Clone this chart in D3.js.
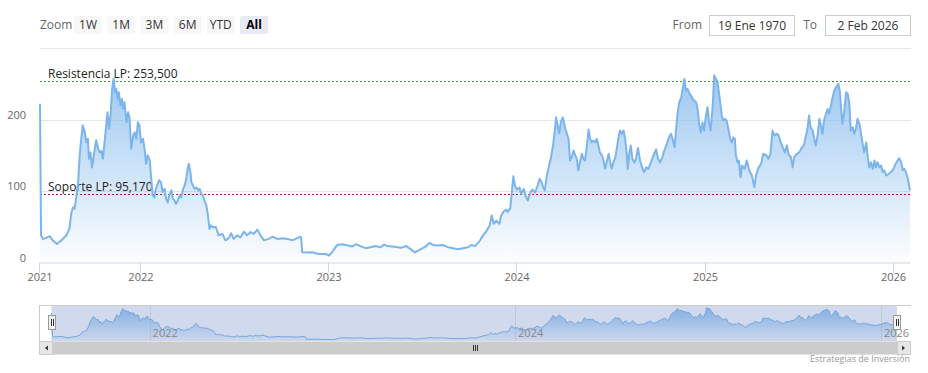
<!DOCTYPE html>
<html lang="es">
<head>
<meta charset="utf-8">
<script src="https://cdn.jsdelivr.net/npm/d3@7"></script>
<style>
  body { margin: 0; background: #fff; }
  svg text { font-family: "Open Sans", "Noto Sans", sans-serif; }
</style>
</head>
<body>
<script>
// price history ([date, value])
var prices2021 = [
  ["2021-06-19",222],["2021-06-21",38],["2021-06-25",33],["2021-07-01",34.5],["2021-07-08",36.8],["2021-07-14",30.7],
  ["2021-07-22",26],["2021-07-30",30.7],["2021-08-09",37.8],["2021-08-15",47],["2021-08-19",70],["2021-08-22",77],
  ["2021-08-25",75],["2021-08-28",89],["2021-09-01",112],["2021-09-04",150],["2021-09-07",173],["2021-09-10",192],
  ["2021-09-14",182],["2021-09-17",168],["2021-09-20",173],["2021-09-22",145],["2021-09-25",154],["2021-09-28",133],
  ["2021-10-03",157],["2021-10-06",171],["2021-10-10",159],["2021-10-13",154],["2021-10-16",156],["2021-10-19",145],
  ["2021-10-23",173],["2021-10-26",196],["2021-10-28",210],["2021-10-31",187],["2021-11-03",206],["2021-11-06",243],
  ["2021-11-09",257],["2021-11-12",238],["2021-11-14",243],["2021-11-17",229],["2021-11-19",238],["2021-11-22",220],
  ["2021-11-25",229],["2021-11-27",215],["2021-11-30",224],["2021-12-04",196],["2021-12-07",210],["2021-12-10",201],
  ["2021-12-13",159],["2021-12-17",178],["2021-12-20",182],["2021-12-23",173],["2021-12-26",196],["2021-12-29",192]
];
var prices2022 = [
  ["2022-01-01",168],["2022-01-05",173],["2022-01-08",159],["2022-01-11",138],["2022-01-14",150],["2022-01-18",143],
  ["2022-01-21",117],["2022-01-24",94],["2022-01-27",91],["2022-01-30",103],["2022-02-05",115],["2022-02-09",112],
  ["2022-02-12",98.5],["2022-02-16",103],["2022-02-19",89],["2022-02-22",84],["2022-02-25",94],["2022-03-01",101],
  ["2022-03-04",89],["2022-03-07",87],["2022-03-10",82],["2022-03-14",87],["2022-03-17",94],["2022-03-20",91],
  ["2022-03-24",103],["2022-03-27",108],["2022-03-30",117],["2022-04-02",133],["2022-04-04",138],["2022-04-07",126],
  ["2022-04-09",112],["2022-04-12",108],["2022-04-15",103],["2022-04-19",105],["2022-04-22",101],["2022-04-25",103],
  ["2022-04-28",96],["2022-05-01",94],["2022-05-04",87],["2022-05-08",80],["2022-05-11",66],["2022-05-14",47],
  ["2022-05-17",52],["2022-05-21",49],["2022-05-26",50],["2022-06-01",38],["2022-06-08",40],["2022-06-14",31],
  ["2022-06-21",34.5],["2022-06-25",41],["2022-06-30",33],["2022-07-07",38],["2022-07-13",35],["2022-07-20",43],
  ["2022-07-26",38],["2022-08-02",42.5],["2022-08-08",40],["2022-08-15",46],["2022-08-21",38],["2022-08-28",31],
  ["2022-09-06",33],["2022-09-13",36],["2022-09-23",33],["2022-10-02",34],["2022-10-12",33],["2022-10-22",31],
  ["2022-10-31",34],["2022-11-06",36],["2022-11-08",35],["2022-11-10",14.4],["2022-11-19",14],["2022-11-29",14.4],
  ["2022-12-12",12],["2022-12-25",12]
];
var prices2023 = [
  ["2023-01-01",9.8],["2023-01-07",14.4],["2023-01-17",24.6],["2023-01-27",25.6],["2023-02-05",24],["2023-02-15",22.4],
  ["2023-02-23",25.6],["2023-03-03",23],["2023-03-13",20],["2023-03-23",21.4],["2023-04-01",23],["2023-04-11",21.4],
  ["2023-04-18",25],["2023-04-24",23],["2023-05-08",22],["2023-05-21",20.5],["2023-05-31",23],["2023-06-10",18],
  ["2023-06-16",14.4],["2023-06-23",16.5],["2023-07-02",20],["2023-07-09",23],["2023-07-15",27.4],["2023-07-22",24.5],
  ["2023-07-31",23.7],["2023-08-10",24.5],["2023-08-20",21.4],["2023-08-30",20],["2023-09-08",18.4],["2023-09-18",20],
  ["2023-09-28",21.4],["2023-10-04",24.5],["2023-10-12",23],["2023-10-21",30.7],["2023-10-27",37.8],["2023-11-02",43],
  ["2023-11-09",51.7],["2023-11-13",65.7],["2023-11-17",54],["2023-11-22",58.6],["2023-11-28",54],["2023-12-01",65],
  ["2023-12-06",71.3],["2023-12-11",74],["2023-12-14",70.5],["2023-12-19",76],["2023-12-22",98.3],["2023-12-25",120.7],
  ["2023-12-28",107.7]
];
var prices2024 = [
  ["2024-01-01",102],["2024-01-06",105],["2024-01-09",96],["2024-01-14",103],["2024-01-18",93],["2024-01-22",86.7],
  ["2024-01-27",98.3],["2024-01-31",102],["2024-02-05",97.6],["2024-02-10",107.7],["2024-02-14",117],["2024-02-18",112],
  ["2024-02-21",105],["2024-02-24",100.8],["2024-02-28",121.7],["2024-03-04",138],["2024-03-07",147],["2024-03-11",163.6],
  ["2024-03-14",182],["2024-03-17",203],["2024-03-20",191.6],["2024-03-23",180.6],["2024-03-26",196],["2024-03-30",203],
  ["2024-04-04",187],["2024-04-07",180],["2024-04-10",173],["2024-04-13",142.6],["2024-04-16",147],["2024-04-20",156.6],
  ["2024-04-23",150],["2024-04-26",145],["2024-04-29",128.7],["2024-05-03",142.6],["2024-05-06",152],["2024-05-09",145],
  ["2024-05-12",142.6],["2024-05-15",159],["2024-05-19",186],["2024-05-22",173],["2024-05-25",168],["2024-05-28",170.6],
  ["2024-06-01",168],["2024-06-04",173],["2024-06-07",163.6],["2024-06-10",154],["2024-06-14",150],["2024-06-17",142.6],
  ["2024-06-20",131],["2024-06-23",140],["2024-06-27",152],["2024-06-30",140],["2024-07-03",131],["2024-07-06",140],
  ["2024-07-10",147],["2024-07-13",161],["2024-07-16",175],["2024-07-19",184.6],["2024-07-22",180],["2024-07-26",184.6],
  ["2024-07-29",173],["2024-08-01",154],["2024-08-03",131],["2024-08-06",152],["2024-08-09",163.6],["2024-08-12",145],
  ["2024-08-16",140],["2024-08-19",145],["2024-08-23",160],["2024-08-27",142.6],["2024-08-31",133],["2024-09-04",126.3],
  ["2024-09-08",133],["2024-09-12",131],["2024-09-17",140],["2024-09-22",150],["2024-09-27",158],["2024-10-01",145],
  ["2024-10-05",140],["2024-10-09",147],["2024-10-13",156.6],["2024-10-18",166],["2024-10-22",175],["2024-10-26",180],
  ["2024-10-30",170.6],["2024-11-02",161],["2024-11-05",186.6],["2024-11-08",210],["2024-11-11",224],["2024-11-15",231],
  ["2024-11-18",245],["2024-11-21",256.8],["2024-11-24",240.5],["2024-11-27",243],["2024-12-01",236],["2024-12-04",233.5],
  ["2024-12-07",229],["2024-12-10",226.5],["2024-12-14",224],["2024-12-17",212.6],["2024-12-20",191.6],["2024-12-23",182],
  ["2024-12-26",196],["2024-12-29",184.6]
];
var prices2025 = [
  ["2025-01-02",205.6],["2025-01-05",217.2],["2025-01-08",196],["2025-01-11",184.6],["2025-01-15",219.6],["2025-01-18",262],
  ["2025-01-21",256.8],["2025-01-24",254.4],["2025-01-27",238],["2025-01-30",221.6],["2025-02-02",203.2],["2025-02-05",198.5],
  ["2025-02-08",200.9],["2025-02-11",198.5],["2025-02-15",184.6],["2025-02-18",173],["2025-02-21",168],["2025-02-24",175],
  ["2025-02-27",173],["2025-03-01",150],["2025-03-04",140],["2025-03-07",142.6],["2025-03-10",119.3],["2025-03-13",135.6],
  ["2025-03-18",131],["2025-03-22",142.6],["2025-03-27",129],["2025-04-01",121.7],["2025-04-06",105.3],["2025-04-09",121.7],
  ["2025-04-14",133],["2025-04-19",138],["2025-04-23",152],["2025-04-29",150],["2025-05-03",145],["2025-05-07",152],
  ["2025-05-11",184.6],["2025-05-15",177.6],["2025-05-19",180],["2025-05-23",177.6],["2025-05-27",168],["2025-05-31",161],
  ["2025-06-04",154],["2025-06-08",163.6],["2025-06-11",152],["2025-06-16",147],["2025-06-19",133],["2025-06-22",147],
  ["2025-06-27",152],["2025-07-02",154],["2025-07-07",161],["2025-07-11",163.6],["2025-07-15",177.6],["2025-07-18",187],
  ["2025-07-21",205.6],["2025-07-24",189],["2025-07-28",184.6],["2025-07-31",173],["2025-08-03",163.6],["2025-08-07",180],
  ["2025-08-10",201],["2025-08-13",192],["2025-08-16",180],["2025-08-19",198.5],["2025-08-23",208],["2025-08-26",214.8],
  ["2025-08-29",208],["2025-09-01",217],["2025-09-04",228.8],["2025-09-08",240.5],["2025-09-11",245],["2025-09-14",247.6],
  ["2025-09-16",250],["2025-09-19",238],["2025-09-21",217],["2025-09-24",193.8],["2025-09-27",210],["2025-10-01",238],
  ["2025-10-04",236],["2025-10-07",224],["2025-10-10",184.6],["2025-10-14",189],["2025-10-17",180],["2025-10-20",187],
  ["2025-10-23",201],["2025-10-27",194],["2025-10-30",180],["2025-11-02",166],["2025-11-05",154],["2025-11-09",168],
  ["2025-11-12",147],["2025-11-15",133],["2025-11-18",140],["2025-11-22",131],["2025-11-25",142.6],["2025-11-28",133],
  ["2025-12-01",140],["2025-12-05",133],["2025-12-08",135.6],["2025-12-11",126.3],["2025-12-14",129],["2025-12-18",121.7],
  ["2025-12-23",124],["2025-12-27",126.3]
];
var prices2026 = [
  ["2026-01-01",131],["2026-01-05",138],["2026-01-09",142.6],["2026-01-12",146],["2026-01-16",140],["2026-01-19",129],
  ["2026-01-22",131],["2026-01-25",126.3],["2026-01-29",117],["2026-02-02",100.7]
];

var yTicks = [0, 100, 200, 300];
var xTickYears = ["2022-01-01","2023-01-01","2024-01-01","2025-01-01","2026-01-01"];
var navTickYears = ["2022-01-01","2024-01-01","2026-01-01"];
var resistance = 253.5, support = 95.17;
var resistanceLabel = "Resistencia LP: 253,500";
var supportLabel = "Soporte LP: 95,170";
var zoomButtons = ["1W","1M","3M","6M","YTD","All"];
var selectedButton = "All";
var fromText = "19 Ene 1970", toText = "2 Feb 2026";
var creditText = "Estrategias de Inversión";

var parse = d3.timeParse("%Y-%m-%d");
var data = [].concat(prices2021, prices2022, prices2023, prices2024, prices2025, prices2026)
  .map(function(d) { return { date: parse(d[0]), value: d[1] }; });

var W = 928, H = 373;
var plotLeft = 40, plotRight = 911, plotTop = 48, plotBottom = 262.5;

var svg = d3.select("body").append("svg")
  .attr("width", W).attr("height", H);

var extent = d3.extent(data, function(d) { return d.date; });
var x = d3.scaleTime().domain(extent).range([plotLeft, 910]);
var y = d3.scaleLinear().domain([0, 300]).range([plotBottom, plotTop]);

var defs = svg.append("defs");
var grad = defs.append("linearGradient").attr("id", "areaGrad")
  .attr("gradientUnits", "userSpaceOnUse")
  .attr("x1", 0).attr("x2", 0).attr("y1", plotTop).attr("y2", plotBottom);
grad.append("stop").attr("offset", 0).attr("stop-color", "#7cb5ec").attr("stop-opacity", 0.85);
grad.append("stop").attr("offset", 1).attr("stop-color", "#7cb5ec").attr("stop-opacity", 0.02);

// grid
svg.append("g").selectAll("line").data(yTicks.filter(function(v) { return v > 0; }))
  .enter().append("line")
  .attr("x1", plotLeft).attr("x2", plotRight)
  .attr("y1", function(v) { return Math.round(y(v)) + 0.5; })
  .attr("y2", function(v) { return Math.round(y(v)) + 0.5; })
  .attr("stroke", "#e6e6e6");

// y labels (top one hidden like highstock)
svg.append("g").selectAll("text").data(yTicks.filter(function(v) { return v < 300; }))
  .enter().append("text")
  .attr("x", 26).attr("y", function(v) { return y(v) - 1; })
  .attr("text-anchor", "end").attr("font-size", 11).attr("fill", "#666")
  .text(function(v) { return v; });

// area + plot lines + line
var area = d3.area().x(function(d) { return x(d.date); })
  .y0(plotBottom).y1(function(d) { return y(d.value); });
var line = d3.line().x(function(d) { return x(d.date); })
  .y(function(d) { return y(d.value); });

svg.append("path").datum(data).attr("d", area).attr("fill", "url(#areaGrad)");

[[resistance, "#3a9a3a", resistanceLabel], [support, "#a3213a", supportLabel]].forEach(function(p) {
  var yy = Math.round(y(p[0])) + 0.5;
  svg.append("line").attr("x1", plotLeft).attr("x2", plotRight)
    .attr("y1", yy).attr("y2", yy)
    .attr("stroke", p[1]).attr("stroke-dasharray", "2,2");
  svg.append("text").attr("x", 48).attr("y", yy - 3.5)
    .attr("font-size", 12).attr("fill", "#222").text(p[2]);
});

svg.append("path").datum(data).attr("d", line)
  .attr("fill", "none").attr("stroke", "#7cb5ec").attr("stroke-width", 2)
  .attr("stroke-linejoin", "round");

// x axis
var xTicks = [extent[0]].concat(xTickYears.map(parse));
svg.append("line").attr("x1", plotLeft).attr("x2", plotRight)
  .attr("y1", plotBottom + 0.5).attr("y2", plotBottom + 0.5).attr("stroke", "#ccd6eb");
svg.append("g").selectAll("line").data(xTicks).enter().append("line")
  .attr("x1", function(d) { return Math.round(x(d)) - 0.5; })
  .attr("x2", function(d) { return Math.round(x(d)) - 0.5; })
  .attr("y1", plotBottom).attr("y2", plotBottom + 10).attr("stroke", "#ccd6eb");
svg.append("g").selectAll("text").data(xTicks).enter().append("text")
  .attr("x", function(d) { return x(d); }).attr("y", 281)
  .attr("text-anchor", "middle").attr("font-size", 11).attr("fill", "#666")
  .text(d3.timeFormat("%Y"));

// range selector
svg.append("text").attr("x", 40).attr("y", 29).attr("font-size", 12).attr("fill", "#666").text("Zoom");
var btn = svg.append("g").selectAll("g").data(zoomButtons).enter().append("g")
  .attr("transform", function(d, i) { return "translate(" + (74 + i * 33.2) + ",16)"; });
btn.append("rect").attr("width", 28).attr("height", 18).attr("rx", 2)
  .attr("fill", function(d) { return d === selectedButton ? "#e6ebf5" : "#f7f7f7"; });
btn.append("text").attr("x", 14).attr("y", 13).attr("text-anchor", "middle")
  .attr("font-size", 12)
  .attr("font-weight", function(d) { return d === selectedButton ? "bold" : "normal"; })
  .attr("fill", function(d) { return d === selectedButton ? "#000" : "#333"; })
  .text(function(d) { return d; });

svg.append("text").attr("x", 702).attr("y", 29).attr("text-anchor", "end")
  .attr("font-size", 12).attr("fill", "#666").text("From");
svg.append("text").attr("x", 817).attr("y", 29).attr("text-anchor", "end")
  .attr("font-size", 12).attr("fill", "#666").text("To");
[[709.5, fromText], [825.5, toText]].forEach(function(b) {
  svg.append("rect").attr("x", b[0]).attr("y", 15.5).attr("width", 85).attr("height", 20)
    .attr("fill", "#fff").attr("stroke", "#cccccc");
  svg.append("text").attr("x", b[0] + 42.5).attr("y", 30).attr("text-anchor", "middle")
    .attr("font-size", 12).attr("fill", "#333").text(b[1]);
});

// navigator
var navTop = 305, navBottom = 341;
var nx = d3.scaleTime().domain(extent).range([51.5, 897]);
var ny = d3.scaleLinear().domain([0, 285]).range([navBottom, navTop]);

var ngrad = defs.append("linearGradient").attr("id", "navGrad")
  .attr("gradientUnits", "userSpaceOnUse")
  .attr("x1", 0).attr("x2", 0).attr("y1", navTop).attr("y2", navBottom);
ngrad.append("stop").attr("offset", 0).attr("stop-color", "#7cb5ec").attr("stop-opacity", 0.9);
ngrad.append("stop").attr("offset", 1).attr("stop-color", "#7cb5ec").attr("stop-opacity", 0.05);

svg.append("g").selectAll("line").data(navTickYears.map(parse)).enter().append("line")
  .attr("x1", function(d) { return Math.round(nx(d)) + 0.5; })
  .attr("x2", function(d) { return Math.round(nx(d)) + 0.5; })
  .attr("y1", navTop).attr("y2", navBottom).attr("stroke", "#e6e6e6");

var narea = d3.area().x(function(d) { return nx(d.date); })
  .y0(navBottom).y1(function(d) { return ny(d.value); });
var nline = d3.line().x(function(d) { return nx(d.date); })
  .y(function(d) { return ny(d.value); });
svg.append("path").datum(data).attr("d", narea).attr("fill", "url(#navGrad)");
svg.append("path").datum(data).attr("d", nline).attr("fill", "none")
  .attr("stroke", "#7cb5ec").attr("stroke-width", 1);

// mask over the selected range
svg.append("rect").attr("x", nx(extent[0])).attr("y", navTop)
  .attr("width", nx(extent[1]) - nx(extent[0])).attr("height", navBottom - navTop)
  .attr("fill", "rgba(102,133,194,0.3)");

svg.append("g").selectAll("text").data(navTickYears.map(parse)).enter().append("text")
  .attr("x", function(d) { return nx(d) + 3; }).attr("y", 337)
  .attr("font-size", 11).attr("fill", "#888")
  .text(d3.timeFormat("%Y"));

svg.append("line").attr("x1", 39).attr("x2", 911).attr("y1", navTop + 0.5).attr("y2", navTop + 0.5)
  .attr("stroke", "#cccccc");
svg.append("line").attr("x1", 39.5).attr("x2", 39.5).attr("y1", navTop).attr("y2", navBottom)
  .attr("stroke", "#cccccc");

// handles
[nx(extent[0]), nx(extent[1])].forEach(function(hx) {
  var hxr = Math.round(hx);
  svg.append("rect").attr("x", hxr - 3.5).attr("y", 315.5).attr("width", 7).attr("height", 14)
    .attr("fill", "#f2f2f2").attr("stroke", "#999");
  [-1, 1].forEach(function(o) {
    svg.append("line").attr("x1", hxr + o + 0.5).attr("x2", hxr + o + 0.5)
      .attr("y1", 319).attr("y2", 326).attr("stroke", "#333");
  });
});

// scrollbar
svg.append("rect").attr("x", 39.5).attr("y", 341.5).attr("width", 871).attr("height", 13)
  .attr("fill", "#f2f2f2");
svg.append("rect").attr("x", 52).attr("y", 341.5).attr("width", 846).attr("height", 13)
  .attr("fill", "#cccccc");
[[39.5, "M45,348 L48,345.5 L48,350.5 Z"], [897.5, "M905,348 L902,345.5 L902,350.5 Z"]].forEach(function(b) {
  svg.append("rect").attr("x", b[0]).attr("y", 341.5).attr("width", 13).attr("height", 13)
    .attr("fill", "#e6e6e6").attr("stroke", "#cccccc");
  svg.append("path").attr("d", b[1]).attr("fill", "#333");
});
var gx = Math.round((52 + 898) / 2);
[-2, 0, 2].forEach(function(o) {
  svg.append("line").attr("x1", gx + o + 0.5).attr("x2", gx + o + 0.5)
    .attr("y1", 345).attr("y2", 351).attr("stroke", "#333");
});

// credits
svg.append("text").attr("x", 910).attr("y", 362).attr("text-anchor", "end")
  .attr("font-size", 9).attr("fill", "#999").text(creditText);
</script>
</body>
</html>
